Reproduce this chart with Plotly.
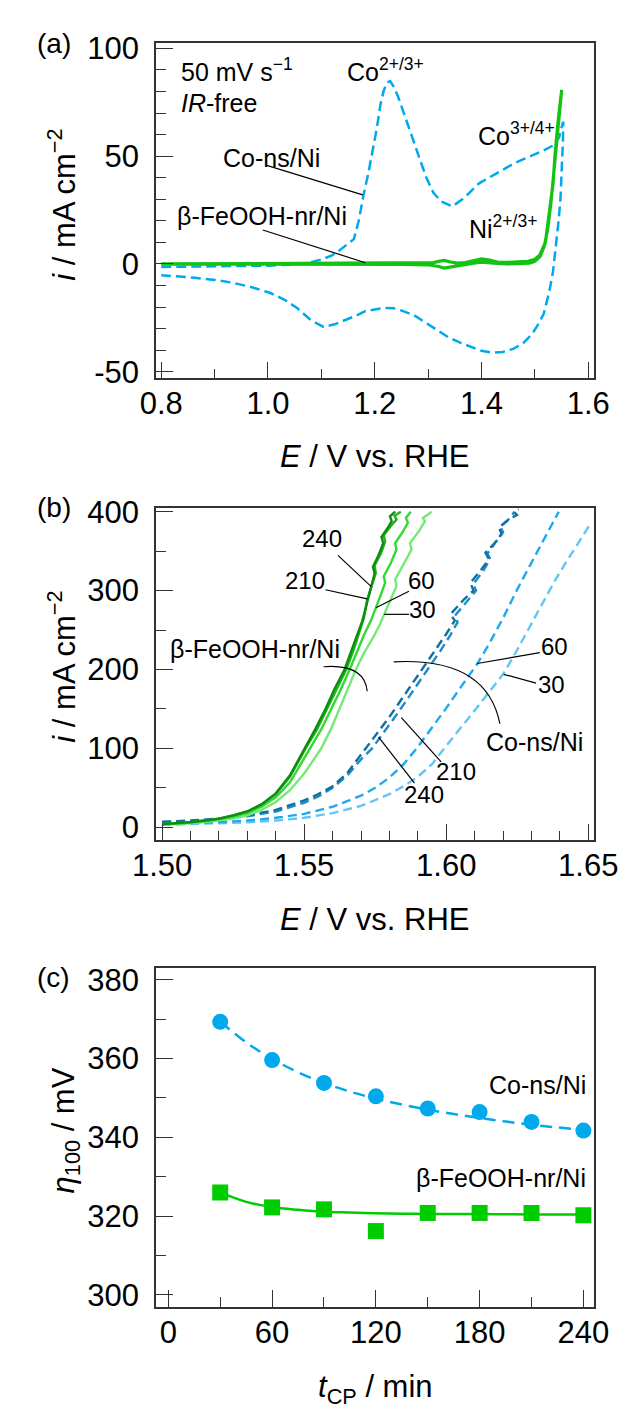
import plotly.graph_objects as go

FONT = "Liberation Sans, Arial, sans-serif"
AX = "#333333"
W, H = 643, 1417

# ---------------- data: panel (a) cyclic voltammograms ----------------
co_fwd_E = [0.80, 0.85, 0.90, 0.95, 1.00, 1.05, 1.08, 1.10, 1.12, 1.135, 1.15, 1.161, 1.17, 1.179, 1.188,
            1.1965, 1.204, 1.2107, 1.217, 1.2235, 1.229, 1.2356, 1.244, 1.2534, 1.264, 1.2747, 1.285, 1.296,
            1.31, 1.3244, 1.3457, 1.367, 1.3955, 1.42, 1.4381, 1.46, 1.4807, 1.50, 1.5163, 1.534, 1.5453, 1.5524]
co_fwd_i = [-1.4, -1.3, -1.2, -1.1, -0.8, -0.3, 0.8, 2.0, 4.0, 6.5, 9.5, 11.5, 20, 32, 42,
            52.6, 63, 73.9, 80.5, 84.2, 84.8, 82.2, 77.5, 70.8, 63, 55.6, 47.5, 40.4,
            33, 29, 26.7, 30.5, 37.4, 41, 43.5, 46.5, 48.8, 50.8, 52.6, 54.9, 58.6, 65.5]
co_rev_E = [1.5532, 1.5528, 1.551, 1.548, 1.5445, 1.541, 1.5375, 1.534, 1.527, 1.5163, 1.505, 1.495, 1.478,
            1.4594, 1.44, 1.4203, 1.40, 1.3813, 1.36, 1.3386, 1.318, 1.296, 1.275, 1.2534, 1.2355, 1.2178,
            1.20, 1.1823, 1.165, 1.1468, 1.125, 1.1041, 1.08, 1.0544, 1.03, 1.0047, 0.97, 0.9336, 0.90,
            0.8625, 0.83, 0.80]
co_rev_i = [65.5, 58, 45, 30, 20, 11.5, 4, -3.6, -13, -23.4, -28.5, -32.5, -36.8,
            -39.4, -40.8, -41.2, -40.3, -38.6, -36.5, -34.1, -30.8, -27.2, -24, -21.9, -20.5, -20.4,
            -21, -21.9, -24, -25.7, -28, -29.2, -26, -20.4, -16.5, -13.5, -10.8, -8.7, -7.4,
            -6.4, -5.7, -5.2]
fe_fwd_E = [0.80, 0.90, 1.00, 1.10, 1.20, 1.28, 1.31, 1.32, 1.33, 1.34, 1.355, 1.37, 1.385, 1.40, 1.415,
            1.43, 1.45, 1.47, 1.488, 1.50, 1.509, 1.5198, 1.527, 1.534, 1.5376, 1.543, 1.5503]
fe_fwd_i = [0.0, 0.1, 0.1, 0.2, 0.2, 0.3, 0.6, 1.2, 1.6, 1.0, 0.4, 0.6, 1.6, 2.4, 1.8,
            0.9, 0.7, 0.8, 1.2, 2.2, 4.0, 10, 25, 37, 50, 65, 80.7]
fe_rev_E = [1.5503, 1.545, 1.54, 1.535, 1.53, 1.524, 1.518, 1.51, 1.50, 1.49, 1.47, 1.45, 1.43, 1.415,
            1.40, 1.385, 1.37, 1.355, 1.34, 1.33, 1.32, 1.30, 1.25, 1.10, 0.95, 0.80]
fe_rev_i = [80.7, 66, 53, 40, 28, 16, 8.5, 3.5, 1.2, 0.4, 0.1, 0.0, 0.2, 0.6,
            0.8, 0.4, -0.2, -0.6, -1.4, -1.9, -1.2, -0.4, -0.2, -0.2, -0.1, -0.1]

# ---------------- data: panel (b) LSV after CP ----------------
fe240_E = [1.500, 1.505, 1.510, 1.515, 1.520, 1.525, 1.530, 1.535, 1.540, 1.545, 1.5503, 1.554, 1.5575, 1.5605,
           1.5642, 1.567, 1.5692, 1.5705, 1.5718, 1.5735, 1.5748, 1.5742, 1.5762, 1.5778, 1.5772, 1.5795,
           1.5808, 1.5802, 1.582]
fe240_i = [4, 5, 6.5, 8.5, 11, 15, 20, 29, 43, 66, 100, 125, 150, 174,
           200, 227, 248, 262, 280, 305, 322, 330, 345, 360, 368, 380,
           388, 394, 400]
fe210_E = [1.500, 1.505, 1.510, 1.515, 1.520, 1.525, 1.530, 1.535, 1.540, 1.545, 1.5505, 1.5545, 1.558, 1.561,
           1.5648, 1.5675, 1.5695, 1.571, 1.5722, 1.574, 1.5752, 1.5748, 1.577, 1.5785, 1.578, 1.5805,
           1.5825, 1.5818, 1.584]
fe210_i = [4, 5, 6.5, 8.5, 11, 15, 20, 29, 42, 64, 100, 124, 150, 173,
           200, 226, 247, 265, 289, 308, 322, 332, 347, 362, 370, 382,
           390, 395, 400]
fe60_E = [1.500, 1.505, 1.510, 1.515, 1.520, 1.525, 1.530, 1.535, 1.540, 1.545, 1.5522, 1.556, 1.5595, 1.5628,
          1.566, 1.5688, 1.5712, 1.5735, 1.5753, 1.577, 1.5785, 1.578, 1.5805, 1.5825, 1.582, 1.5848,
          1.5865, 1.5858, 1.5875]
fe60_i = [3.5, 4.5, 6, 8, 10, 13.5, 18, 26, 38, 57, 100, 124, 150, 174,
          200, 224, 245, 262, 278, 295, 310, 318, 335, 352, 360, 375,
          386, 392, 400]
fe30_E = [1.500, 1.505, 1.510, 1.515, 1.520, 1.525, 1.530, 1.535, 1.540, 1.545, 1.550, 1.556, 1.5595, 1.5635,
          1.5682, 1.5712, 1.5742, 1.5765, 1.5782, 1.5805, 1.5825, 1.582, 1.585, 1.5878, 1.5872, 1.5905,
          1.5925, 1.5918, 1.5949]
fe30_i = [3.5, 4, 5, 6.5, 8.5, 11, 15, 22, 32, 47, 68, 100, 125, 160,
          200, 222, 240, 256, 270, 290, 306, 314, 333, 352, 360, 376,
          388, 392, 400]
co240_E = [1.500, 1.510, 1.520, 1.530, 1.540, 1.550, 1.555, 1.560, 1.565, 1.5717, 1.576, 1.580, 1.585, 1.5915,
           1.596, 1.600, 1.603, 1.6015, 1.606, 1.6096, 1.6085, 1.612, 1.615, 1.6138, 1.617, 1.6195, 1.6185,
           1.622, 1.6249, 1.6238, 1.6255]
co240_i = [7, 8.5, 11, 15, 22, 34, 42, 52, 68, 100, 120, 140, 166, 200,
           224, 245, 262, 270, 288, 300, 310, 325, 340, 348, 360, 372, 380,
           390, 396, 400, 403]
co210_E = [1.500, 1.510, 1.520, 1.530, 1.540, 1.550, 1.555, 1.560, 1.565, 1.570, 1.5739, 1.578, 1.582, 1.587,
           1.5935, 1.598, 1.6015, 1.604, 1.603, 1.607, 1.6105, 1.6095, 1.613, 1.6155, 1.6145, 1.6175, 1.620,
           1.619, 1.6225, 1.624]
co210_i = [6.5, 8, 10.5, 14, 20, 31, 39, 50, 65, 86, 100, 120, 140, 166,
           200, 224, 244, 260, 268, 285, 300, 308, 325, 340, 347, 362, 374,
           381, 392, 400]
co60_E = [1.500, 1.510, 1.520, 1.530, 1.540, 1.550, 1.560, 1.570, 1.575, 1.580, 1.585, 1.5896, 1.595, 1.600,
          1.605, 1.6109, 1.615, 1.620, 1.6249, 1.630, 1.635, 1.6396]
co60_i = [4, 5, 6.5, 8.5, 12, 17, 26, 40, 50, 63, 80, 100, 126, 151,
          177, 207, 232, 265, 301, 335, 368, 400]
co30_E = [1.500, 1.510, 1.520, 1.530, 1.540, 1.550, 1.560, 1.570, 1.580, 1.585, 1.590, 1.595, 1.5993, 1.605,
          1.610, 1.615, 1.6202, 1.625, 1.630, 1.635, 1.6383, 1.642, 1.646, 1.6503]
co30_i = [3, 3.8, 4.8, 6.2, 8.5, 12, 18, 27, 42, 52, 64, 80, 100, 125,
          148, 171, 195, 225, 258, 290, 313, 335, 358, 382]

# ---------------- data: panel (c) overpotential vs CP time ----------------
t_cp = [30, 60, 90, 120, 150, 180, 210, 240]
eta_co = [369.3, 359.6, 353.8, 350.4, 347.3, 346.4, 343.9, 341.7]
eta_fe = [326.0, 322.2, 321.7, 316.2, 320.8, 320.8, 320.8, 320.2]
t_fit = [30, 45, 60, 75, 90, 105, 120, 135, 150, 165, 180, 195, 210, 225, 240]
eta_co_fit = [369.3, 364.1, 359.9, 356.5, 353.8, 351.6, 349.8, 348.3, 347.0, 345.9, 344.9, 344.0, 343.2, 342.5, 341.9]
eta_fe_fit = [326.0, 323.6, 322.3, 321.6, 321.1, 320.9, 320.7, 320.6, 320.55, 320.5, 320.5, 320.45, 320.4, 320.4, 320.4]

# ---------------- colours ----------------
BLUE = "#00A8EC"
GREEN = "#12C312"
G_SHADES = {"240": "#0E8E0E", "210": "#1CB51C", "60": "#33D833", "30": "#74EA74"}
B_SHADES = {"240": "#126FA4", "210": "#1D8CC8", "60": "#1FA9EC", "30": "#62C6F3"}

TICK_SIZE = 31
TITLE_SIZE = 31
LBL = 25
NUM = 24

fig = go.Figure()

# panel (a)
fig.add_trace(go.Scatter(x=co_fwd_E + co_rev_E, y=co_fwd_i + co_rev_i, mode="lines",
                         line=dict(color=BLUE, width=2.5, dash="10px,5px"), xaxis="x", yaxis="y"))
fig.add_trace(go.Scatter(x=fe_fwd_E + fe_rev_E, y=fe_fwd_i + fe_rev_i, mode="lines",
                         line=dict(color=GREEN, width=3.2), xaxis="x", yaxis="y"))

# panel (b)
for key, E, I in [("30", co30_E, co30_i), ("60", co60_E, co60_i), ("210", co210_E, co210_i), ("240", co240_E, co240_i)]:
    fig.add_trace(go.Scatter(x=E, y=I, mode="lines", line=dict(color=B_SHADES[key], width=2.4, dash="9px,5px"),
                             xaxis="x2", yaxis="y2"))
for key, E, I in [("30", fe30_E, fe30_i), ("60", fe60_E, fe60_i), ("210", fe210_E, fe210_i), ("240", fe240_E, fe240_i)]:
    fig.add_trace(go.Scatter(x=E, y=I, mode="lines", line=dict(color=G_SHADES[key], width=2.4),
                             xaxis="x2", yaxis="y2"))

# panel (c)
fig.add_trace(go.Scatter(x=t_fit, y=eta_co_fit, mode="lines", line=dict(color=BLUE, width=2.5, dash="12px,7px", shape="spline"),
                         xaxis="x3", yaxis="y3"))
fig.add_trace(go.Scatter(x=t_fit, y=eta_fe_fit, mode="lines", line=dict(color="#00CC00", width=2.5, shape="spline"),
                         xaxis="x3", yaxis="y3"))
fig.add_trace(go.Scatter(x=t_cp, y=eta_co, mode="markers", marker=dict(symbol="circle", size=16, color=BLUE),
                         xaxis="x3", yaxis="y3"))
fig.add_trace(go.Scatter(x=t_cp, y=eta_fe, mode="markers", marker=dict(symbol="square", size=16, color="#00CC00"),
                         xaxis="x3", yaxis="y3"))


def PX(x):
    return x / W


def PY(y):
    return 1 - y / H


XDOM = [PX(142.7), PX(616.3)]


def axis(domain, rng, tickvals, ticktext, minorvals, anchor, standoff):
    return dict(domain=domain, range=rng, anchor=anchor, showline=True, linecolor=AX, linewidth=1.5,
                mirror=True, ticks="inside", ticklen=17, tickwidth=1.3, tickcolor=AX,
                showgrid=False, zeroline=False, tickmode="array", tickvals=tickvals, ticktext=ticktext,
                ticklabelstandoff=standoff,
                tickfont=dict(size=TICK_SIZE, family=FONT, color="black"),
                minor=dict(ticks="inside", ticklen=10, tickwidth=1.3, tickcolor=AX, tickmode="array",
                           tickvals=minorvals, showgrid=False))


fig.update_layout(
    width=W, height=H, margin=dict(l=0, r=0, t=0, b=0), showlegend=False,
    paper_bgcolor="white", plot_bgcolor="white",
    xaxis=axis(XDOM, [0.7903, 1.6114], [0.8, 1.0, 1.2, 1.4, 1.6], ["0.8", "1.0", "1.2", "1.4", "1.6"],
               [0.9, 1.1, 1.3, 1.5], "y", -3),
    yaxis=axis([PY(371.7), PY(30.7)], [-53.1, 102.4], [-50, 0, 50, 100], ["-50", "0", "50", "100"],
               [-40, -30, -20, -10, 10, 20, 30, 40, 60, 70, 80, 90], "x", 9),
    xaxis2=axis(XDOM, [1.49785, 1.65212], [1.50, 1.55, 1.60, 1.65], ["1.50", "1.55", "1.60", "1.65"],
                [1.51, 1.52, 1.53, 1.54, 1.56, 1.57, 1.58, 1.59, 1.61, 1.62, 1.63, 1.64], "y2", -3),
    yaxis2=axis([PY(841.7), PY(503.3)], [-16.7, 405], [0, 100, 200, 300, 400], ["0", "100", "200", "300", "400"],
                [50, 150, 250, 350], "x2", 9),
    xaxis3=axis(XDOM, [-7.1, 246.3], [0, 60, 120, 180, 240], ["0", "60", "120", "180", "240"],
                [30, 90, 150, 210], "y3", -3),
    yaxis3=axis([PY(1316), PY(971.7)], [297, 382.9], [300, 320, 340, 360, 380], ["300", "320", "340", "360", "380"],
                [310, 330, 350, 370], "x3", 9),
)

annotations = []
shapes = []


def label(text, x, y, size=LBL, xanchor="center", yanchor="middle", angle=0):
    annotations.append(dict(text=text, x=PX(x), y=PY(y), xref="paper", yref="paper", showarrow=False,
                            xanchor=xanchor, yanchor=yanchor, textangle=angle,
                            font=dict(size=size, family=FONT, color="black")))


def leader(x0, y0, x1, y1):
    shapes.append(dict(type="line", xref="paper", yref="paper", x0=PX(x0), y0=PY(y0), x1=PX(x1), y1=PY(y1),
                       line=dict(color="black", width=1.2)))


def arc(x0, y0, cx, cy, x1, y1):
    path = f"M {PX(x0)},{PY(y0)} Q {PX(cx)},{PY(cy)} {PX(x1)},{PY(y1)}"
    shapes.append(dict(type="path", path=path, xref="paper", yref="paper", line=dict(color="black", width=1.2)))


# panel letters
label("(a)", 32, 31, size=28)
label("(b)", 32, 503, size=28)
label("(c)", 32, 981, size=28)

# axis titles
label("<i>i</i> / mA cm<sup>−2</sup>", 41, 195, size=TITLE_SIZE, angle=-90)
label("<i>i</i> / mA cm<sup>−2</sup>", 41, 665, size=TITLE_SIZE, angle=-90)
label("<i>η</i><sub>100</sub> / mV", 45, 1137, size=TITLE_SIZE, angle=-90)
label("<i>E</i> / V vs. RHE", 379.5, 451, size=TITLE_SIZE)
label("<i>E</i> / V vs. RHE", 379.5, 922, size=TITLE_SIZE)
label("<i>t</i><sub>CP</sub> / min", 379.5, 1400, size=TITLE_SIZE)

# panel (a) labels
label("50 mV s<sup>−1</sup>", 167, 58, xanchor="left")
label("<i>IR</i>-free", 167, 92, xanchor="left")
label("Co<sup>2+/3+</sup>", 347, 58, xanchor="left")
label("Co<sup>3+/4+</sup>", 489, 123, xanchor="left")
label("Co-ns/Ni", 213, 147, xanchor="left")
leader(262.3, 155, 366, 185)
label("β-FeOOH-nr/Ni", 163, 207, xanchor="left")
leader(258, 220.7, 368.9, 254)
label("Ni<sup>2+/3+</sup>", 478.5, 218, xanchor="left")

# panel (b) labels
label("240", 321.7, 535, size=NUM)
leader(339.3, 551.7, 375, 583.3)
label("210", 304, 577.3, size=NUM)
leader(325.8, 586.7, 370.9, 596)
label("60", 430, 577.3, size=NUM)
leader(416, 588.3, 380.3, 605)
label("30", 431, 606.7, size=NUM)
leader(416, 611.7, 389.3, 611.7)
label("β-FeOOH-nr/Ni", 250, 646.7)
arc(323.8, 665, 368, 662, 370.9, 690)
arc(399.6, 660, 500, 655, 514.3, 723)
label("60", 573, 644, size=NUM)
leader(557.4, 650.7, 489.8, 661.7)
label("30", 570, 683.3, size=NUM)
leader(553.3, 681.7, 518.4, 672.7)
label("Co-ns/Ni", 552, 741.7)
label("210", 467, 771.7, size=NUM)
leader(407.8, 716.7, 450.8, 761.7)
label("240", 432, 795, size=NUM)
leader(422, 783.3, 383.2, 736.7)

# panel (c) labels
label("Co-ns/Ni", 609, 1090, xanchor="right")
label("β-FeOOH-nr/Ni", 609, 1185, xanchor="right")

fig.update_layout(annotations=annotations, shapes=shapes)

fig.write_html("out.html", config={"displayModeBar": False})
